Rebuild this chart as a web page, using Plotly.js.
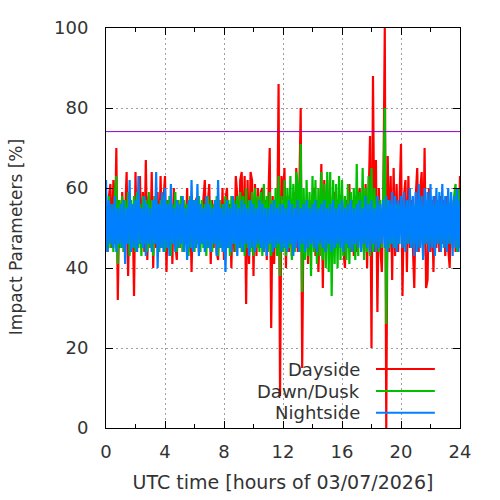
<!DOCTYPE html>
<html><head><meta charset="utf-8">
<script src="https://cdn.plot.ly/plotly-3.0.1.min.js"></script>
<style>html,body{margin:0;padding:0;background:#fff}#chart{width:500px;height:500px}</style>
</head><body><div id="chart"></div>
<script>
// Series names (legend order)
const seriesNames = ['Dayside', 'Dawn/Dusk', 'Nightside'];

// Samples every 0.1 h from 0 to 24 h (values in %)
const dayside = [
  55,44,58,61,45,62,46,70,32,57,
  45,59,44,57,64,38,58,45,56,33,
  64,44,58,63,45,59,44,67,42,58,
  45,64,40,58,45,59,44,63,46,57,
  63,39,57,45,58,41,60,46,42,57,
  45,58,44,56,46,60,44,57,39,56,
  45,57,58,44,56,46,57,62,45,56,
  61,41,57,45,56,44,42,57,45,60,
  42,57,60,45,56,40,57,44,63,58,
  45,62,64,44,63,31,62,41,64,62,
  38,61,43,60,45,59,60,44,57,42,
  60,70,25,58,41,57,45,86,8,63,
  57,65,40,58,44,57,43,59,45,65,
  44,58,80,15,57,45,56,41,57,44,
  58,60,43,57,39,56,66,35,62,44,
  62,45,58,44,56,59,45,57,46,58,
  58,44,40,57,45,61,44,57,43,58,
  44,57,60,45,56,44,61,40,58,73,
  20,88,44,67,29,60,45,39,58,100,
  0,68,44,63,37,65,43,61,44,62,
  71,33,58,62,39,63,45,57,44,35,
  58,65,44,59,64,43,70,35,37,60,
  44,57,39,58,45,57,44,58,46,57,
  43,58,45,40,57,46,58,44,57,45,
  63
];
const dawnDusk = [
  57,44,58,45,56,44,58,63,41,57,
  45,58,44,57,46,59,43,57,45,58,
  44,59,45,56,43,58,46,57,44,59,
  45,57,43,58,46,56,44,57,45,58,
  44,57,45,58,43,56,46,59,44,57,
  45,58,44,57,46,56,43,58,45,57,
  44,57,46,58,44,57,45,56,43,58,
  45,57,44,56,46,58,43,57,45,56,
  44,58,45,57,43,58,46,57,44,58,
  45,59,44,58,43,60,45,57,44,59,
  43,60,45,58,44,59,43,61,45,58,
  44,59,43,57,45,60,43,63,38,58,
  44,62,43,60,45,63,42,61,44,64,
  61,44,71,34,60,42,62,43,59,38,
  63,44,62,41,60,43,64,42,61,40,
  64,39,64,33,62,41,61,40,63,42,
  62,43,58,42,61,41,59,44,60,42,
  66,43,59,44,65,42,60,44,63,43,
  65,44,60,45,58,44,57,45,58,80,
  26,57,45,56,46,55,45,56,46,55,
  56,46,55,45,56,46,57,45,55,46,
  56,45,57,46,55,45,56,46,57,45,
  55,46,56,45,57,46,55,45,56,46,
  56,45,55,46,57,45,58,61,44,60,
  45
];
const nightside = [
  62,44,57,46,56,45,58,44,55,46,
  56,45,57,41,55,46,62,44,56,45,
  57,44,63,46,55,45,58,43,56,46,
  55,44,57,46,64,40,56,45,59,44,
  60,45,56,43,61,46,55,44,57,45,
  56,46,58,44,55,42,57,45,62,44,
  57,45,61,43,56,46,55,44,58,45,
  56,44,55,46,57,43,62,45,55,44,
  56,39,57,45,55,44,58,46,56,43,
  55,45,57,44,56,46,55,43,57,45,
  56,44,55,46,57,45,56,44,55,43,
  55,46,56,44,57,45,55,46,56,44,
  56,45,55,44,57,46,56,43,55,45,
  57,44,55,46,56,44,57,45,55,46,
  56,45,57,44,55,46,56,45,57,44,
  55,46,56,44,57,45,55,46,56,45,
  57,44,55,46,56,45,57,44,55,46,
  56,45,57,44,55,46,58,45,56,44,
  57,46,55,44,58,45,56,46,57,45,
  58,44,57,46,59,45,58,44,57,46,
  58,45,59,44,57,46,60,45,58,43,
  59,44,61,45,58,42,60,46,59,44,
  61,45,58,43,60,46,59,44,61,45,
  58,44,60,46,59,43,58,45,60,44,
  57
];
const threshold = 74.1;
const xTickVals = [0, 4, 8, 12, 16, 20, 24];
const yTickVals = [0, 20, 40, 60, 80, 100];

const colors = ['#ff0000', '#00c000', '#0080ff'];
const seriesData = [dayside, dawnDusk, nightside];

const traces = seriesData.map((vals, i) => ({
  type: 'scatter', mode: 'lines', name: seriesNames[i],
  y: vals, x0: 0, dx: 0.1,
  line: {color: colors[i], width: 2.2},
  hoverinfo: 'skip'
}));

const txt = '#333333';
const fontFam = 'DejaVu Sans, sans-serif';
const legendY = [0.1475, 0.0925, 0.038];

const annotations = seriesNames.map((n, i) => ({
  xref: 'paper', yref: 'paper', x: 0.722, y: legendY[i],
  xanchor: 'right', yanchor: 'middle', showarrow: false,
  text: n, font: {family: fontFam, size: 18, color: txt}
})).concat([{
  xref: 'paper', yref: 'paper', x: -0.256, y: 0.478,
  xanchor: 'center', yanchor: 'middle', showarrow: false, textangle: -90,
  text: 'Impact Parameters [%]', font: {family: fontFam, size: 17, color: txt}
}]);
const shapes = [{
  type: 'line', xref: 'paper', yref: 'y', x0: 0, x1: 1, y0: threshold, y1: threshold,
  line: {color: '#9000d0', width: 1}, layer: 'above'
}].concat(seriesNames.map((n, i) => ({
  type: 'line', xref: 'paper', yref: 'paper', x0: 0.7627, x1: 0.929,
  y0: legendY[i], y1: legendY[i], line: {color: colors[i], width: 2}
})));

const axisCommon = {
  showline: true, linecolor: '#000', linewidth: 1, mirror: 'allticks',
  ticks: 'inside', ticklen: 7, tickcolor: '#000', tickwidth: 1,
  showgrid: true, gridcolor: '#a0a0a0', griddash: '2px,3px', gridwidth: 1,
  zeroline: false, tickfont: {family: fontFam, size: 18, color: txt}
};

const layout = {
  width: 500, height: 500,
  margin: {l: 106, r: 40, t: 28, b: 72},
  paper_bgcolor: '#fff', plot_bgcolor: '#fff',
  showlegend: false,
  xaxis: Object.assign({}, axisCommon, {
    range: [0, 24], tickvals: xTickVals, ticklabelstandoff: 7,
    minor: {dtick: 2, ticks: 'inside', ticklen: 4, tickcolor: '#000', showgrid: false},
    title: {text: 'UTC time [hours of 03/07/2026]', font: {family: fontFam, size: 19, color: txt}, standoff: 15}
  }),
  yaxis: Object.assign({}, axisCommon, {
    range: [0, 100], tickvals: yTickVals, ticklabelstandoff: 13
  }),
  annotations: annotations,
  shapes: shapes
};

Plotly.newPlot('chart', traces, layout, {displayModeBar: false, staticPlot: true});
</script>
</body></html>
